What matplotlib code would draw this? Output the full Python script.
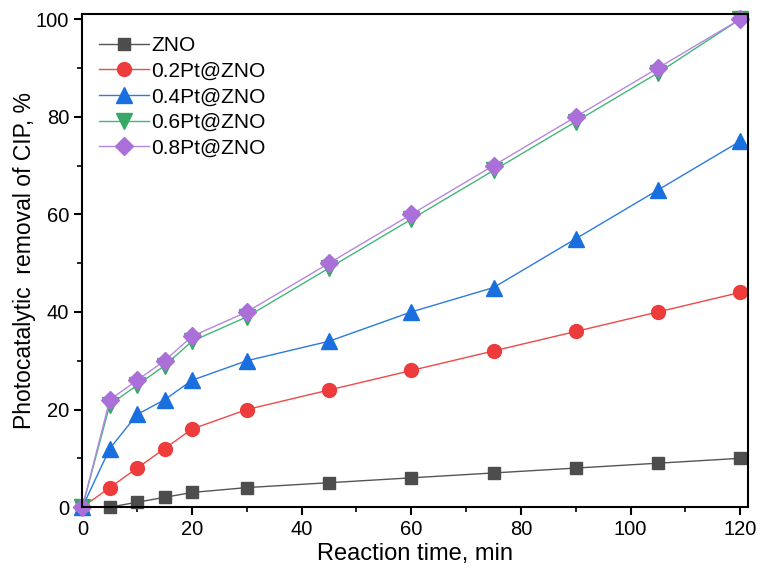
import matplotlib.pyplot as plt
from matplotlib.ticker import MultipleLocator

plt.rcParams['font.family'] = ['Liberation Sans', 'DejaVu Sans']

time_min = [0, 5, 10, 15, 20, 30, 45, 60, 75, 90, 105, 120]
zno = [0, 0, 1, 2, 3, 4, 5, 6, 7, 8, 9, 10]
pt02 = [0, 4, 8, 12, 16, 20, 24, 28, 32, 36, 40, 44]
pt04 = [0, 12, 19, 22, 26, 30, 34, 40, 45, 55, 65, 75]
pt06 = [0, 21, 25, 29, 34, 39, 49, 59, 69, 79, 89, 100]
pt08 = [0, 22, 26, 30, 35, 40, 50, 60, 70, 80, 90, 100]
labels = ['ZNO', '0.2Pt@ZNO', '0.4Pt@ZNO', '0.6Pt@ZNO', '0.8Pt@ZNO']

series = [zno, pt02, pt04, pt06, pt08]
markers = ['s', 'o', '^', 'v', 'D']
line_colors = ['#555555', '#f04848', '#2a7ae0', '#40b878', '#b886e0']
face_colors = ['#4d4d4d', '#ee3b3b', '#1a6fdf', '#37a865', '#ab6fd9']
sizes = [9, 10, 11, 11, 9.5]

fig = plt.figure(figsize=(7.7, 5.73), dpi=100)
ax = fig.add_axes([0.107, 0.115, 0.865, 0.86])

for y, lab, m, lc, fc, ms in zip(series, labels, markers, line_colors, face_colors, sizes):
    ax.plot(time_min, y, color=lc, lw=1.0, marker=m, markersize=ms,
            markerfacecolor=fc, markeredgecolor=fc, label=lab, clip_on=False)

ax.set_xlim(0, 121.5)
ax.set_ylim(0, 101)
ax.xaxis.set_major_locator(MultipleLocator(20))
ax.xaxis.set_minor_locator(MultipleLocator(10))
ax.yaxis.set_major_locator(MultipleLocator(20))
ax.yaxis.set_minor_locator(MultipleLocator(10))
ax.tick_params(which='major', direction='out', length=6, width=1.5, labelsize=14.5)
ax.tick_params(which='minor', direction='out', length=3.5, width=1.2)
for s in ax.spines.values():
    s.set_linewidth(1.5)

ax.set_xlabel('Reaction time, min', fontsize=17, labelpad=3)
ax.set_ylabel('Photocatalytic  removal of CIP, %', fontsize=16.5, labelpad=0)

ax.legend(loc='upper left', frameon=False, fontsize=15, handlelength=2.4,
          handletextpad=0.12, labelspacing=0.32, borderaxespad=0.4,
          bbox_to_anchor=(0.0, 0.99))

fig.savefig('out.png', dpi=100)
